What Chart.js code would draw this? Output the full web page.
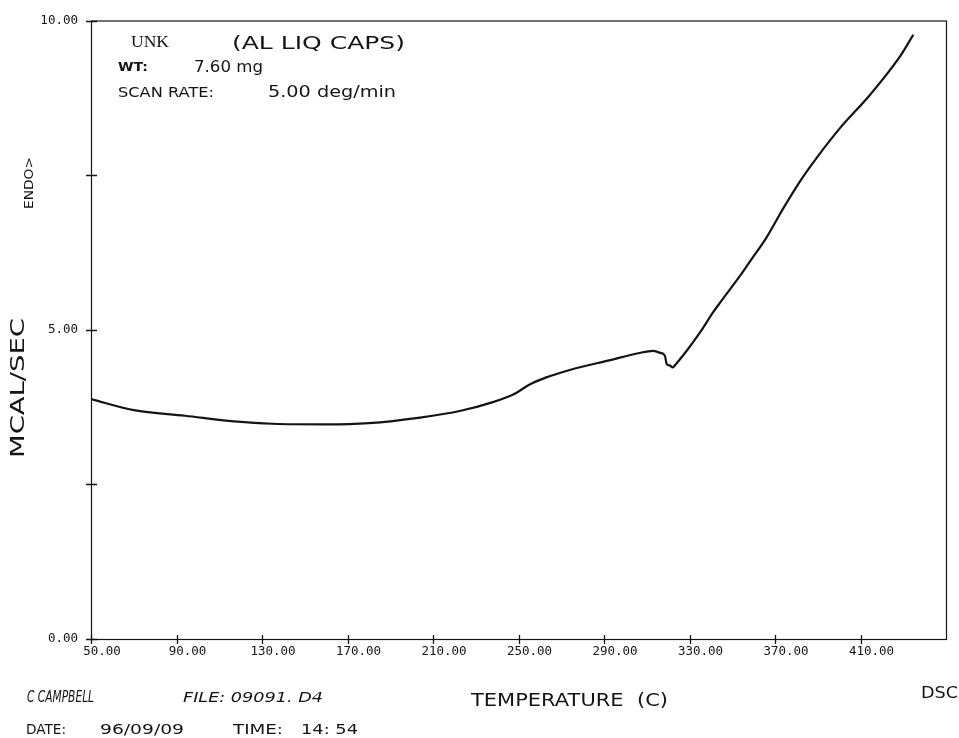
<!DOCTYPE html>
<html>
<head>
<meta charset="utf-8">
<title>DSC – UNK (AL LIQ CAPS)</title>
<script src="https://cdn.jsdelivr.net/npm/chart.js@4.4.1/dist/chart.umd.min.js"></script>
<style>
  html, body { margin: 0; padding: 0; background: #ffffff; }
  #wrap { width: 959px; height: 738px; position: relative; }
</style>
</head>
<body>
<div id="wrap"><canvas id="dsc" width="959" height="738"></canvas></div>
<script>
// DSC scan: temperature (C) vs heat flow (mcal/sec)
const temperatureC = [
  50, 70, 94, 117, 135, 160, 180, 204, 223, 238, 248, 255, 263, 274,
  293, 306, 313, 316, 318.5, 319.3, 321, 322, 324, 328.7, 335, 341, 345,
  353.6, 358.4, 366, 374, 381.7, 389.5, 400.4, 414.5, 428.5, 434.7
];
const heatFlow = [
  3.88, 3.70, 3.61, 3.52, 3.48, 3.47, 3.49, 3.58, 3.69, 3.83, 3.96, 4.11, 4.23, 4.35,
  4.51, 4.62, 4.66, 4.63, 4.58, 4.45, 4.42, 4.39, 4.46, 4.66, 4.96, 5.28, 5.47,
  5.87, 6.11, 6.49, 6.97, 7.40, 7.78, 8.26, 8.80, 9.42, 9.77
];
const xTickValues = [50, 90, 130, 170, 210, 250, 290, 330, 370, 410];
const yTickValues = [0, 2.5, 5, 7.5, 10];
const yLabelledTicks = [0, 5, 10];

const INK = '#141414';
const points = temperatureC.map((t, i) => ({ x: t, y: heatFlow[i] }));

// draws a string stretched to a given width, starting at `left`
function fitText(ctx, str, left, midY, width, font) {
  ctx.save();
  ctx.font = font;
  const w = ctx.measureText(str).width;
  ctx.translate(left, midY);
  ctx.scale(width / w, 1);
  ctx.textAlign = 'left';
  ctx.textBaseline = 'middle';
  ctx.fillStyle = INK;
  ctx.fillText(str, 0, 0);
  ctx.restore();
}

// vertical string centred at (cx, cy), reading bottom to top
function fitTextVertical(ctx, str, cx, cy, length, font) {
  ctx.save();
  ctx.font = font;
  const w = ctx.measureText(str).width;
  ctx.translate(cx, cy);
  ctx.rotate(-Math.PI / 2);
  ctx.scale(length / w, 1);
  ctx.textAlign = 'center';
  ctx.textBaseline = 'middle';
  ctx.fillStyle = INK;
  ctx.fillText(str, 0, 0);
  ctx.restore();
}

const plotterFrame = {
  id: 'plotterFrame',
  afterDraw(chart) {
    const { ctx, chartArea: a, scales } = chart;
    ctx.save();
    // plot box
    ctx.strokeStyle = INK;
    ctx.lineWidth = 1.2;
    ctx.strokeRect(a.left + 0.5, a.top + 0.5, a.right - a.left, a.bottom - a.top);
    // tick marks crossing the axes
    ctx.lineWidth = 1.3;
    ctx.beginPath();
    xTickValues.forEach(v => {
      const px = Math.round(scales.x.getPixelForValue(v)) + 0.5;
      ctx.moveTo(px, a.bottom - 4);
      ctx.lineTo(px, a.bottom + 5);
    });
    yTickValues.forEach(v => {
      const py = Math.round(scales.y.getPixelForValue(v)) + 0.5;
      ctx.moveTo(a.left - 5, py);
      ctx.lineTo(a.left + 6, py);
    });
    ctx.stroke();
    ctx.restore();

    // header block
    fitText(ctx, 'UNK', 131, 43, 38, '16px "Liberation Serif"');
    fitText(ctx, '(AL LIQ CAPS)', 232, 44, 173, '18px "DejaVu Sans"');
    fitText(ctx, 'WT:', 118, 68, 30, 'bold 13px "DejaVu Sans"');
    fitText(ctx, '7.60 mg', 194, 68, 69, '16px "DejaVu Sans"');
    fitText(ctx, 'SCAN RATE:', 118, 93, 96, '14px "DejaVu Sans"');
    fitText(ctx, '5.00 deg/min', 268, 93, 128, '16px "DejaVu Sans"');

    // axis titles
    fitTextVertical(ctx, 'MCAL/SEC', 19, 388, 140, '19px "DejaVu Sans"');
    fitTextVertical(ctx, 'ENDO>', 30, 183, 52, '12px "DejaVu Sans"');
    fitText(ctx, 'TEMPERATURE  (C)', 471, 701, 197, '18px "DejaVu Sans"');
    fitText(ctx, 'DSC', 921, 694, 37, '16px "DejaVu Sans"');

    // footer
    fitText(ctx, 'C CAMPBELL', 27, 698, 67, 'italic 15px "DejaVu Sans"');
    fitText(ctx, 'FILE: 09091. D4', 183, 698, 140, 'italic 14px "DejaVu Sans"');
    fitText(ctx, 'DATE:', 26, 730, 40, '14px "DejaVu Sans"');
    fitText(ctx, '96/09/09', 100, 730, 84, '14px "DejaVu Sans"');
    fitText(ctx, 'TIME:', 233, 730, 50, '14px "DejaVu Sans"');
    fitText(ctx, '14: 54', 301, 730, 57, '14px "DejaVu Sans"');
  }
};

new Chart(document.getElementById('dsc'), {
  type: 'line',
  data: {
    datasets: [{
      data: points,
      borderColor: INK,
      borderWidth: 2.2,
      pointRadius: 0,
      fill: false,
      cubicInterpolationMode: 'monotone'
    }]
  },
  options: {
    responsive: false,
    animation: false,
    layout: { padding: { top: 19, right: 13, left: 0, bottom: 0 } },
    plugins: { legend: { display: false }, tooltip: { enabled: false } },
    scales: {
      x: {
        type: 'linear',
        min: 50,
        max: 450,
        grid: { display: false, drawTicks: false },
        border: { display: false },
        afterBuildTicks(scale) { scale.ticks = xTickValues.map(v => ({ value: v })); },
        afterFit(scale) { scale.height = 99; },
        ticks: {
          autoSkip: false,
          maxRotation: 0,
          padding: 5,
          labelOffset: 11,
          color: INK,
          font: { family: '"DejaVu Sans Mono"', size: 12.5 },
          callback: v => Number(v).toFixed(2)
        }
      },
      y: {
        min: 0,
        max: 10,
        grid: { display: false, drawTicks: false },
        border: { display: false },
        afterBuildTicks(scale) { scale.ticks = yTickValues.map(v => ({ value: v })); },
        afterFit(scale) { scale.width = 91; },
        ticks: {
          padding: 13,
          color: INK,
          font: { family: '"DejaVu Sans Mono"', size: 12.5 },
          callback: v => yLabelledTicks.includes(v) ? Number(v).toFixed(2) : ''
        }
      }
    }
  },
  plugins: [plotterFrame]
});
</script>
</body>
</html>
